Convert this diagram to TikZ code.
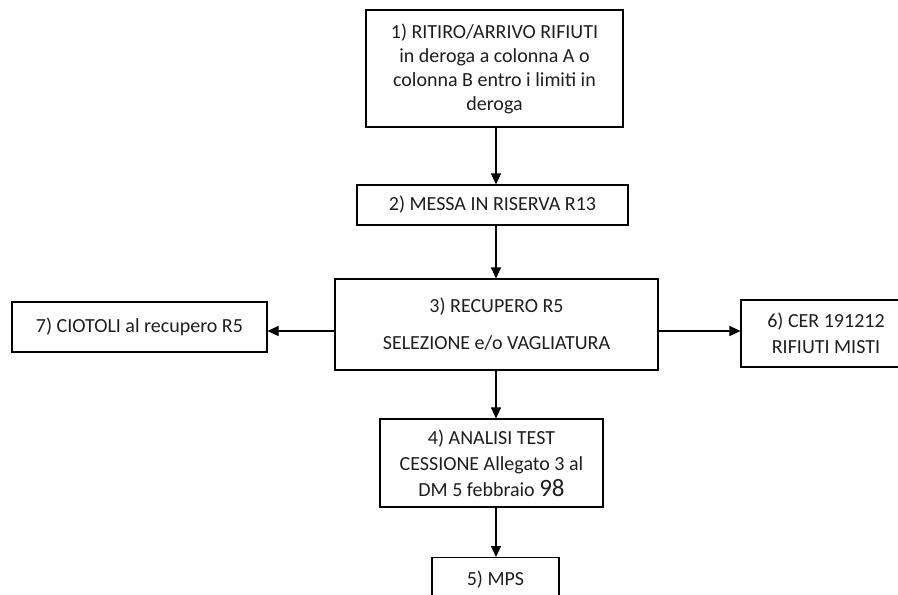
\documentclass[tikz,border=0pt]{standalone}
\usepackage{fontspec}
\setmainfont{Carlito}
\usetikzlibrary{arrows.meta}
\definecolor{txt}{RGB}{30,30,30}
\tikzset{
  box/.style={draw=black, line width=1.1pt, rectangle, inner sep=0pt, align=center, text=txt, font=\fontsize{20}{24}\selectfont},
  arr/.style={draw=black, line width=1.1pt, -{Triangle[length=11pt,width=10pt]}}
}
\begin{document}
\begin{tikzpicture}[x=1pt,y=-1pt]
\useasboundingbox (0,0) rectangle (898,595);
\clip (0,0) rectangle (898,595);
\node[box, minimum width=257pt, minimum height=117pt] (b1) at (494.5,68.5) {1) RITIRO/ARRIVO RIFIUTI\\in deroga a colonna A o\\colonna B entro i limiti in\\deroga};
\node[box, minimum width=271pt, minimum height=40pt] (b2) at (492.5,205) {2) MESSA IN RISERVA R13};
\node[box, minimum width=323pt, minimum height=91pt] (b3) at (496.5,324.5) {3) RECUPERO R5\\[13pt]SELEZIONE e/o VAGLIATURA};
\node[box, minimum width=255pt, minimum height=50pt] (b7) at (139.5,327) {7) CIOTOLI al recupero R5};
\node[box, minimum width=170pt, minimum height=67pt, font=\fontsize{20}{26}\selectfont] (b6) at (826,333.5) {6) CER 191212\\RIFIUTI MISTI};
\node[box, minimum width=223pt, minimum height=88pt, font=\fontsize{20}{26}\selectfont] (b4) at (491.5,463) {4) ANALISI TEST\\CESSIONE Allegato 3 al\\DM 5 febbraio {\fontsize{25}{26}\selectfont 98}};
\node[box, minimum width=127pt, minimum height=53pt, anchor=north] (b5) at (495.5,557) {\raisebox{11pt}{5) MPS}};
\coordinate (ax) at (496,0);
\coordinate (ay) at (0,331);
\draw[arr] (b1.south -| ax) -- (b2.north -| ax);
\draw[arr] (b2.south -| ax) -- (b3.north -| ax);
\draw[arr] (b3.south -| ax) -- (b4.north -| ax);
\draw[arr] (b4.south -| ax) -- (b5.north -| ax);
\draw[arr] (b3.west |- ay) -- (b7.east |- ay);
\draw[arr] (b3.east |- ay) -- (b6.west |- ay);
\end{tikzpicture}
\end{document}
